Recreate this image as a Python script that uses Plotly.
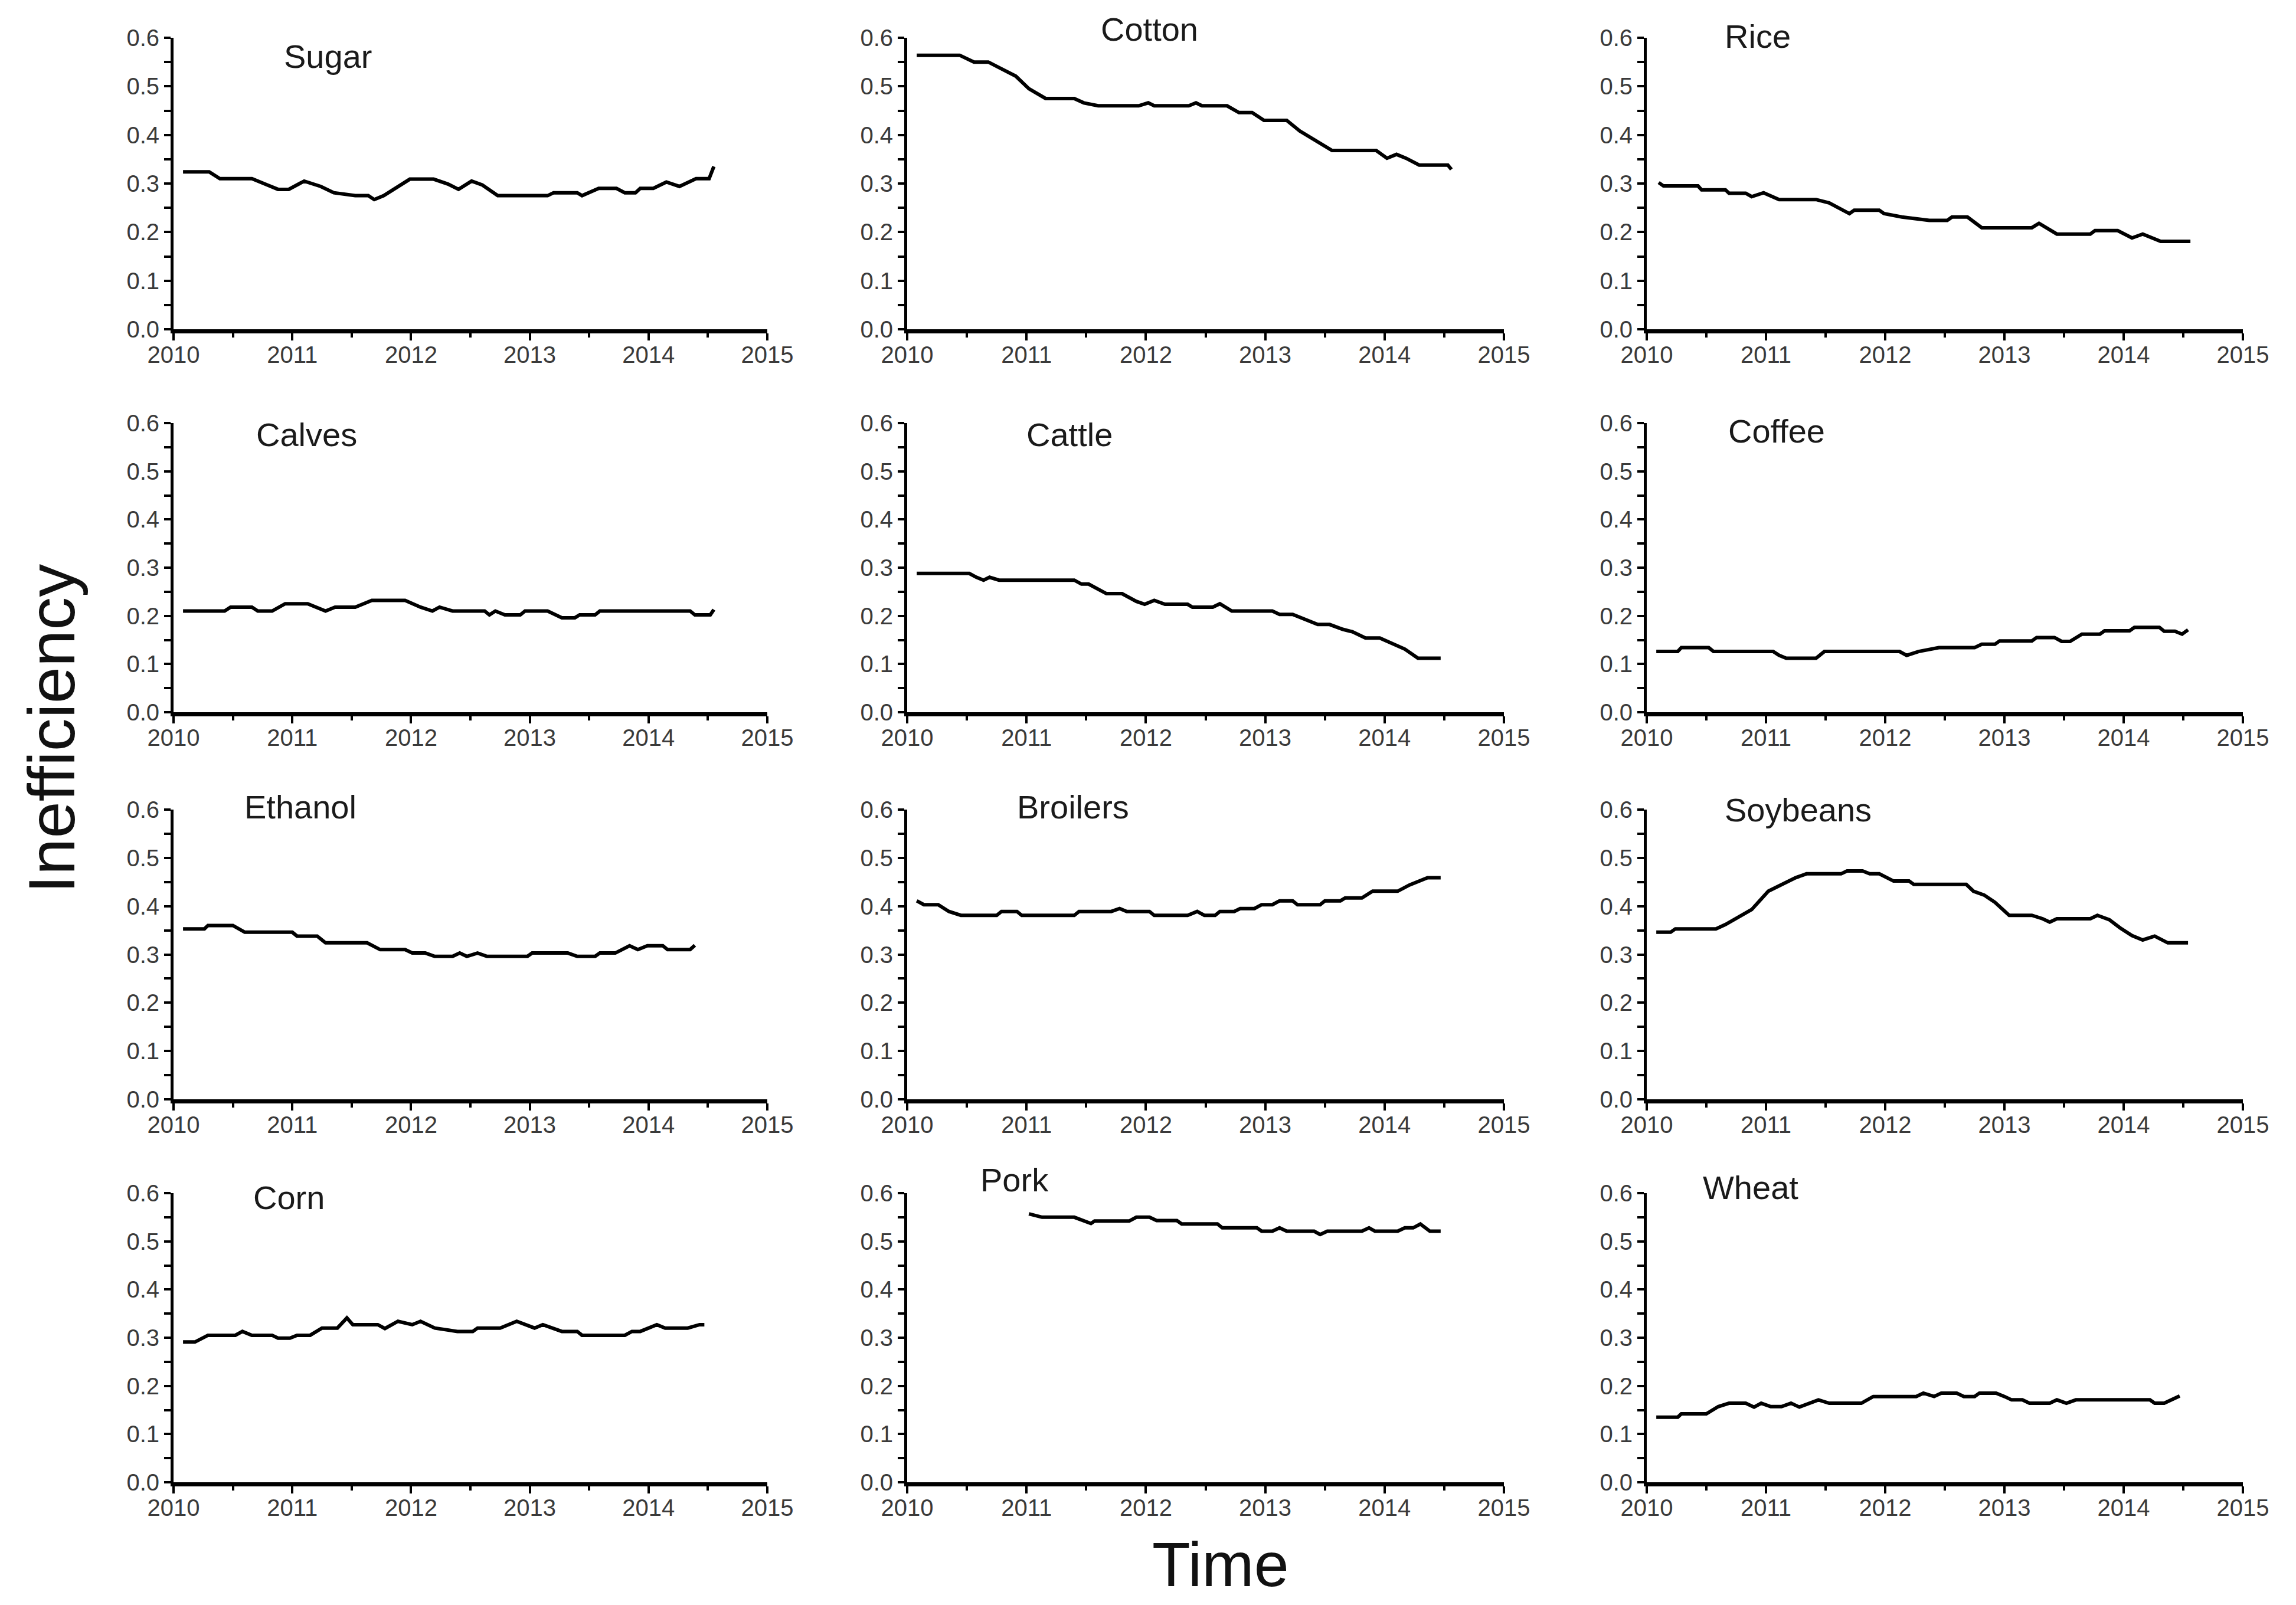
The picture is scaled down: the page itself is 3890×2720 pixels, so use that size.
import plotly.graph_objects as go

# ---------------- data ----------------
commodities = ["Sugar", "Cotton", "Rice",
               "Calves", "Cattle", "Coffee",
               "Ethanol", "Broilers", "Soybeans",
               "Corn", "Pork", "Wheat"]

year_ticks = [2010, 2011, 2012, 2013, 2014, 2015]
value_ticks = [0.0, 0.1, 0.2, 0.3, 0.4, 0.5, 0.6]

sugar_t = [2010.08, 2010.30, 2010.39, 2010.66, 2010.79, 2010.88, 2010.97, 2011.10, 2011.24, 2011.35, 2011.53, 2011.64,
           2011.69, 2011.77, 2011.99, 2012.19, 2012.31, 2012.40, 2012.51, 2012.60, 2012.73, 2013.15, 2013.20, 2013.40,
           2013.44, 2013.58, 2013.73, 2013.80, 2013.89, 2013.93, 2014.04, 2014.15, 2014.26, 2014.40, 2014.51, 2014.55]
sugar_v = [0.324, 0.324, 0.310, 0.310, 0.297, 0.288, 0.288, 0.305, 0.294, 0.281, 0.275, 0.275,
           0.267, 0.275, 0.309, 0.309, 0.299, 0.288, 0.305, 0.297, 0.275, 0.275, 0.281, 0.281,
           0.275, 0.290, 0.290, 0.281, 0.281, 0.290, 0.290, 0.303, 0.294, 0.310, 0.310, 0.335]

cotton_t = [2010.08, 2010.44, 2010.56, 2010.68, 2010.79, 2010.91, 2011.02, 2011.16, 2011.40, 2011.48, 2011.60, 2011.94,
            2012.02, 2012.07, 2012.36, 2012.42, 2012.47, 2012.68, 2012.78, 2012.89, 2012.99, 2013.18, 2013.29, 2013.43,
            2013.56, 2013.93, 2014.02, 2014.10, 2014.18, 2014.29, 2014.53, 2014.56]
cotton_v = [0.564, 0.564, 0.550, 0.550, 0.536, 0.521, 0.495, 0.475, 0.475, 0.466, 0.460, 0.460,
            0.466, 0.460, 0.460, 0.466, 0.460, 0.460, 0.446, 0.446, 0.430, 0.430, 0.408, 0.388,
            0.368, 0.368, 0.352, 0.360, 0.352, 0.338, 0.338, 0.329]

rice_t = [2010.10, 2010.14, 2010.43, 2010.46, 2010.66, 2010.69, 2010.83, 2010.88, 2010.98, 2011.11, 2011.42, 2011.53,
          2011.70, 2011.74, 2011.95, 2011.99, 2012.14, 2012.37, 2012.52, 2012.56, 2012.69, 2012.81, 2013.23, 2013.29,
          2013.44, 2013.72, 2013.76, 2013.95, 2014.07, 2014.16, 2014.31, 2014.56]
rice_v = [0.302, 0.295, 0.295, 0.287, 0.287, 0.280, 0.280, 0.273, 0.281, 0.267, 0.267, 0.260,
          0.238, 0.245, 0.245, 0.238, 0.231, 0.224, 0.224, 0.231, 0.231, 0.209, 0.209, 0.218,
          0.196, 0.196, 0.203, 0.203, 0.188, 0.196, 0.181, 0.181]

calves_t = [2010.08, 2010.43, 2010.48, 2010.66, 2010.71, 2010.83, 2010.94, 2011.13, 2011.28, 2011.36, 2011.53, 2011.67,
            2011.95, 2012.08, 2012.18, 2012.24, 2012.35, 2012.62, 2012.66, 2012.71, 2012.79, 2012.92, 2012.96, 2013.15,
            2013.27, 2013.38, 2013.42, 2013.55, 2013.59, 2014.35, 2014.39, 2014.52, 2014.55]
calves_v = [0.210, 0.210, 0.218, 0.218, 0.210, 0.210, 0.225, 0.225, 0.210, 0.218, 0.218, 0.232,
            0.232, 0.218, 0.210, 0.218, 0.210, 0.210, 0.202, 0.210, 0.202, 0.202, 0.210, 0.210,
            0.196, 0.196, 0.202, 0.202, 0.210, 0.210, 0.202, 0.202, 0.213]

cattle_t = [2010.08, 2010.52, 2010.58, 2010.64, 2010.69, 2010.77, 2011.40, 2011.46, 2011.52, 2011.67, 2011.80, 2011.92,
            2011.99, 2012.07, 2012.16, 2012.35, 2012.39, 2012.56, 2012.62, 2012.72, 2013.06, 2013.12, 2013.23, 2013.35,
            2013.44, 2013.54, 2013.65, 2013.73, 2013.84, 2013.96, 2014.07, 2014.17, 2014.28, 2014.47]
cattle_v = [0.288, 0.288, 0.280, 0.274, 0.280, 0.274, 0.274, 0.266, 0.266, 0.246, 0.246, 0.230,
            0.224, 0.232, 0.224, 0.224, 0.218, 0.218, 0.225, 0.210, 0.210, 0.203, 0.203, 0.190,
            0.182, 0.182, 0.172, 0.167, 0.154, 0.154, 0.141, 0.131, 0.112, 0.112]

coffee_t = [2010.08, 2010.26, 2010.29, 2010.52, 2010.56, 2011.06, 2011.11, 2011.17, 2011.42, 2011.49, 2012.12, 2012.18,
            2012.28, 2012.45, 2012.75, 2012.81, 2012.92, 2012.96, 2013.23, 2013.27, 2013.42, 2013.48, 2013.55, 2013.65,
            2013.80, 2013.84, 2014.05, 2014.09, 2014.30, 2014.34, 2014.43, 2014.49, 2014.54]
coffee_v = [0.126, 0.126, 0.134, 0.134, 0.126, 0.126, 0.118, 0.112, 0.112, 0.126, 0.126, 0.118,
            0.126, 0.134, 0.134, 0.141, 0.141, 0.148, 0.148, 0.155, 0.155, 0.147, 0.147, 0.162,
            0.162, 0.169, 0.169, 0.176, 0.176, 0.168, 0.168, 0.162, 0.171]

ethanol_t = [2010.08, 2010.26, 2010.29, 2010.50, 2010.60, 2011.00, 2011.04, 2011.21, 2011.28, 2011.63, 2011.74, 2011.95,
             2012.01, 2012.12, 2012.20, 2012.35, 2012.41, 2012.47, 2012.56, 2012.64, 2012.98, 2013.02, 2013.32, 2013.40,
             2013.55, 2013.59, 2013.72, 2013.78, 2013.84, 2013.91, 2013.99, 2014.12, 2014.16, 2014.35, 2014.39]
ethanol_v = [0.353, 0.353, 0.360, 0.360, 0.346, 0.346, 0.338, 0.338, 0.324, 0.324, 0.310, 0.310,
             0.303, 0.303, 0.296, 0.296, 0.303, 0.296, 0.303, 0.296, 0.296, 0.303, 0.303, 0.296,
             0.296, 0.303, 0.303, 0.310, 0.318, 0.310, 0.318, 0.318, 0.310, 0.310, 0.319]

broilers_t = [2010.08, 2010.14, 2010.26, 2010.35, 2010.45, 2010.75, 2010.79, 2010.92, 2010.96, 2011.40, 2011.44, 2011.71,
              2011.78, 2011.84, 2012.03, 2012.07, 2012.35, 2012.43, 2012.49, 2012.58, 2012.62, 2012.74, 2012.79, 2012.91,
              2012.97, 2013.06, 2013.12, 2013.23, 2013.27, 2013.46, 2013.50, 2013.63, 2013.67, 2013.81, 2013.90, 2014.11,
              2014.21, 2014.36, 2014.47]
broilers_v = [0.411, 0.403, 0.403, 0.389, 0.381, 0.381, 0.389, 0.389, 0.381, 0.381, 0.389, 0.389,
              0.395, 0.389, 0.389, 0.381, 0.381, 0.389, 0.381, 0.381, 0.389, 0.389, 0.395, 0.395,
              0.403, 0.403, 0.411, 0.411, 0.403, 0.403, 0.411, 0.411, 0.417, 0.417, 0.431, 0.431,
              0.444, 0.459, 0.459]

soybeans_t = [2010.08, 2010.20, 2010.24, 2010.58, 2010.66, 2010.77, 2010.88, 2011.02, 2011.13, 2011.25, 2011.34, 2011.63,
              2011.68, 2011.81, 2011.87, 2011.95, 2012.07, 2012.20, 2012.24, 2012.68, 2012.74, 2012.83, 2012.92, 2013.04,
              2013.23, 2013.32, 2013.38, 2013.44, 2013.72, 2013.78, 2013.88, 2013.97, 2014.07, 2014.16, 2014.26, 2014.37,
              2014.54]
soybeans_v = [0.346, 0.346, 0.353, 0.353, 0.362, 0.378, 0.393, 0.431, 0.444, 0.459, 0.467, 0.467,
              0.473, 0.473, 0.467, 0.467, 0.452, 0.452, 0.445, 0.445, 0.431, 0.423, 0.408, 0.381,
              0.381, 0.374, 0.367, 0.374, 0.374, 0.381, 0.372, 0.355, 0.339, 0.330, 0.338, 0.324,
              0.324]

corn_t = [2010.08, 2010.18, 2010.29, 2010.52, 2010.58, 2010.66, 2010.83, 2010.88, 2010.98, 2011.04, 2011.15, 2011.25,
          2011.38, 2011.46, 2011.51, 2011.72, 2011.78, 2011.89, 2012.01, 2012.08, 2012.20, 2012.39, 2012.52, 2012.56,
          2012.75, 2012.89, 2013.04, 2013.11, 2013.27, 2013.40, 2013.44, 2013.80, 2013.86, 2013.93, 2014.07, 2014.14,
          2014.33, 2014.43, 2014.47]
corn_v = [0.291, 0.291, 0.305, 0.305, 0.313, 0.305, 0.305, 0.299, 0.299, 0.305, 0.305, 0.320,
          0.320, 0.341, 0.327, 0.327, 0.319, 0.334, 0.327, 0.334, 0.320, 0.313, 0.313, 0.320,
          0.320, 0.334, 0.320, 0.327, 0.313, 0.313, 0.305, 0.305, 0.313, 0.313, 0.327, 0.320,
          0.320, 0.327, 0.327]

pork_t = [2011.02, 2011.13, 2011.40, 2011.54, 2011.57, 2011.86, 2011.92, 2012.03, 2012.09, 2012.26, 2012.30, 2012.60,
          2012.64, 2012.93, 2012.97, 2013.06, 2013.12, 2013.18, 2013.41, 2013.46, 2013.52, 2013.81, 2013.87, 2013.92,
          2014.11, 2014.17, 2014.24, 2014.30, 2014.38, 2014.47]
pork_v = [0.557, 0.550, 0.550, 0.537, 0.542, 0.542, 0.550, 0.550, 0.543, 0.543, 0.536, 0.536,
          0.528, 0.528, 0.521, 0.521, 0.528, 0.521, 0.521, 0.514, 0.521, 0.521, 0.528, 0.521,
          0.521, 0.528, 0.528, 0.536, 0.521, 0.521]

wheat_t = [2010.08, 2010.26, 2010.29, 2010.50, 2010.60, 2010.69, 2010.83, 2010.90, 2010.96, 2011.04, 2011.13, 2011.21,
           2011.28, 2011.44, 2011.53, 2011.80, 2011.90, 2012.26, 2012.32, 2012.41, 2012.47, 2012.60, 2012.66, 2012.75,
           2012.79, 2012.93, 2013.00, 2013.06, 2013.15, 2013.21, 2013.38, 2013.44, 2013.52, 2013.60, 2014.22, 2014.26,
           2014.34, 2014.40, 2014.47]
wheat_v = [0.135, 0.135, 0.142, 0.142, 0.157, 0.164, 0.164, 0.156, 0.164, 0.157, 0.157, 0.164,
           0.156, 0.171, 0.164, 0.164, 0.178, 0.178, 0.185, 0.178, 0.185, 0.185, 0.178, 0.178,
           0.185, 0.185, 0.178, 0.171, 0.171, 0.164, 0.164, 0.171, 0.164, 0.171, 0.171, 0.164,
           0.164, 0.171, 0.179]

series_t = [sugar_t, cotton_t, rice_t, calves_t, cattle_t, coffee_t,
            ethanol_t, broilers_t, soybeans_t, corn_t, pork_t, wheat_t]
series_v = [sugar_v, cotton_v, rice_v, calves_v, cattle_v, coffee_v,
            ethanol_v, broilers_v, soybeans_v, corn_v, pork_v, wheat_v]

# ---------------- layout (positions & styles) ----------------
PAGE_W, PAGE_H = 3890, 2720
PAD = 8                                  # default body margin of the html page
W, H = PAGE_W - 2 * PAD, PAGE_H - 2 * PAD  # figure size so the page does not overflow

# target pixel positions on the page (reference picture)
col_px = [(294, 1300), (1537, 2548), (2790, 3800)]
row_px = [(64, 558), (717, 1207), (1372, 1863), (2022, 2512)]
# panel-label anchor, expressed in each panel's own (year, value) units
label_pos = [(2011.30, 0.562), (2012.03, 0.618), (2010.93, 0.603),
             (2011.12, 0.576), (2011.36, 0.576), (2011.09, 0.584),
             (2011.07, 0.606), (2011.39, 0.606), (2011.27, 0.599),
             (2010.97, 0.591), (2010.90, 0.627), (2010.87, 0.612)]


def fx(px):
    return (px - PAD) / W


def fy(py):
    return 1 - (py - PAD) / H


FONT = "Liberation Sans, Arial, sans-serif"
tick_font = dict(family=FONT, size=40, color="#3a3a3a")

xmin, xmax = year_ticks[0], year_ticks[-1]
ymin, ymax = value_ticks[0], value_ticks[-1]

fig = go.Figure()
layout = dict(
    width=W, height=H,
    margin=dict(l=0, r=0, t=0, b=0, autoexpand=False),
    paper_bgcolor="white", plot_bgcolor="white",
    showlegend=False,
    annotations=[],
)

for i, name in enumerate(commodities):
    r, c = divmod(i, 3)
    n = i + 1
    xa = "xaxis" if n == 1 else f"xaxis{n}"
    ya = "yaxis" if n == 1 else f"yaxis{n}"
    xr = "x" if n == 1 else f"x{n}"
    yr = "y" if n == 1 else f"y{n}"
    x0, x1 = col_px[c]
    y0, y1 = row_px[r]
    layout[xa] = dict(
        domain=[fx(x0), fx(x1)], anchor=yr, automargin=False,
        range=[xmin, xmax],
        tickmode="array", tickvals=year_ticks, ticktext=[str(v) for v in year_ticks],
        ticks="outside", ticklen=12, tickwidth=4, tickcolor="black",
        ticklabelstandoff=-10,
        minor=dict(tickmode="linear", tick0=2010, dtick=0.5, ticks="outside",
                   ticklen=7, tickwidth=4, tickcolor="black"),
        showline=True, linewidth=7, linecolor="black",
        showgrid=False, zeroline=False, tickfont=tick_font,
    )
    layout[ya] = dict(
        domain=[fy(y1), fy(y0)], anchor=xr, automargin=False,
        range=[ymin, ymax],
        tickmode="array", tickvals=value_ticks, ticktext=[f"{v:.1f}" for v in value_ticks],
        ticks="outside", ticklen=11, tickwidth=4, tickcolor="black",
        minor=dict(tickmode="linear", tick0=0, dtick=0.05, ticks="outside",
                   ticklen=11, tickwidth=4, tickcolor="black"),
        showline=True, linewidth=5, linecolor="black",
        showgrid=False, zeroline=False, tickfont=tick_font,
    )
    fig.add_trace(go.Scatter(
        x=series_t[i], y=series_v[i], mode="lines",
        line=dict(color="black", width=6),
        xaxis=xr, yaxis=yr, name=name, cliponaxis=False,
    ))
    lx, ly = label_pos[i]
    px = x0 + (lx - xmin) / (xmax - xmin) * (x1 - x0)
    py = y1 - (ly - ymin) / (ymax - ymin) * (y1 - y0)
    layout["annotations"].append(dict(
        x=fx(px), y=fy(py), xref="paper", yref="paper", text=name, showarrow=False,
        xanchor="center", yanchor="middle",
        font=dict(family=FONT, size=56, color="#1a1a1a"),
    ))

layout["annotations"].append(dict(
    x=fx(87), y=fy(1235), xref="paper", yref="paper", text="Inefficiency",
    showarrow=False, textangle=-90, xanchor="center", yanchor="middle",
    font=dict(family=FONT, size=112, color="#111111"),
))
layout["annotations"].append(dict(
    x=fx(2068), y=0, xref="paper", yref="paper", text="Time",
    showarrow=False, xanchor="center", yanchor="bottom",
    font=dict(family=FONT, size=106, color="#111111"),
))

fig.update_layout(**layout)
fig.write_html("out.html")
